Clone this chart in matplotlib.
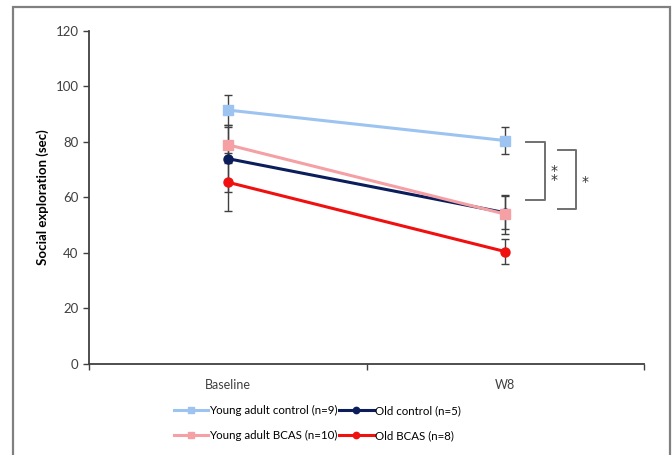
import matplotlib.pyplot as plt
from matplotlib.patches import Rectangle

plt.rcParams['font.family'] = ['Lato', 'DejaVu Sans']

# data
timepoints = ['Baseline', 'W8']
groups = ['Young adult control (n=9)', 'Old control (n=5)',
          'Young adult BCAS (n=10)', 'Old BCAS (n=8)']
young_ctrl = [91.5, 80.5]
young_ctrl_err = [5.5, 5.0]
old_ctrl = [74.0, 54.5]
old_ctrl_err = [12.0, 6.0]
young_bcas = [79.0, 54.0]
young_bcas_err = [6.5, 7.0]
old_bcas = [65.5, 40.5]
old_bcas_err = [10.5, 4.5]

colors = ['#9DC3F0', '#0B1E5B', '#F4A0A4', '#F01010']
markers = ['s', 'o', 's', 'o']
series = [young_ctrl, old_ctrl, young_bcas, old_bcas]
errors = [young_ctrl_err, old_ctrl_err, young_bcas_err, old_bcas_err]

fig = plt.figure(figsize=(6.72, 4.55), dpi=100)
ax = fig.add_axes([0.1324, 0.2, 0.826, 0.732])

x = [0.5, 1.5]
# error bars first, then lines on top
for vals, errs in zip(series, errors):
    ax.errorbar(x, vals, yerr=errs, fmt='none', ecolor='#404040',
                elinewidth=1.0, capsize=3, capthick=1.0, zorder=2)
handles = []
for vals, c, m, lab in zip(series, colors, markers, groups):
    h, = ax.plot(x, vals, color=c, marker=m, markersize=6.5, lw=2.2,
                 label=lab, zorder=3)
    handles.append(h)

ax.set_xlim(0, 2)
ax.set_ylim(0, 120)
ax.set_yticks(range(0, 121, 20))
ax.set_xticks(x)
ax.set_xticklabels(timepoints)
ax.set_xticks([0, 1, 2], minor=True)
ax.tick_params(axis='x', which='major', length=0, pad=11, labelsize=9, labelcolor='#404040')
ax.tick_params(axis='x', which='minor', length=4, color='#404040', width=1)
ax.tick_params(axis='y', length=4, width=1, color='#404040', labelsize=9.5, labelcolor='#404040')
for s in ['top', 'right']:
    ax.spines[s].set_visible(False)
for s in ['left', 'bottom']:
    ax.spines[s].set_color('#404040')
    ax.spines[s].set_linewidth(1.3)
ax.set_ylabel('Social exploration (sec)', fontsize=9.5, fontweight='bold', labelpad=5)

# significance brackets
bk = dict(color='#707070', lw=1.4, clip_on=False)
ax.plot([1.575, 1.643, 1.643, 1.575], [80, 80, 59, 59], **bk)
ax.text(1.675, 68, '*\n*', ha='center', va='center', fontsize=10, linespacing=0.55,
        color='#333333', family='DejaVu Sans')
ax.plot([1.69, 1.755, 1.755, 1.69], [77, 77, 56, 56], **bk)
ax.text(1.787, 65.5, '*', ha='center', va='center', fontsize=10,
        color='#333333', family='DejaVu Sans')

# legend, ordered as in the reference
order = [0, 2, 1, 3]
fig.legend([handles[i] for i in order], [groups[i] for i in order], ncol=2,
           loc='center', bbox_to_anchor=(0.472, 0.07), frameon=False,
           fontsize=8.3, handlelength=3.0, handletextpad=0.1, columnspacing=0.1,
           labelspacing=1.2, markerscale=0.7)

# grey frame around the figure
fig.patches.append(Rectangle((0.0193, -0.1), 0.978, 1.085, transform=fig.transFigure,
                             fill=False, edgecolor='#808080', lw=1.6))

fig.savefig('out.png', dpi=100)
